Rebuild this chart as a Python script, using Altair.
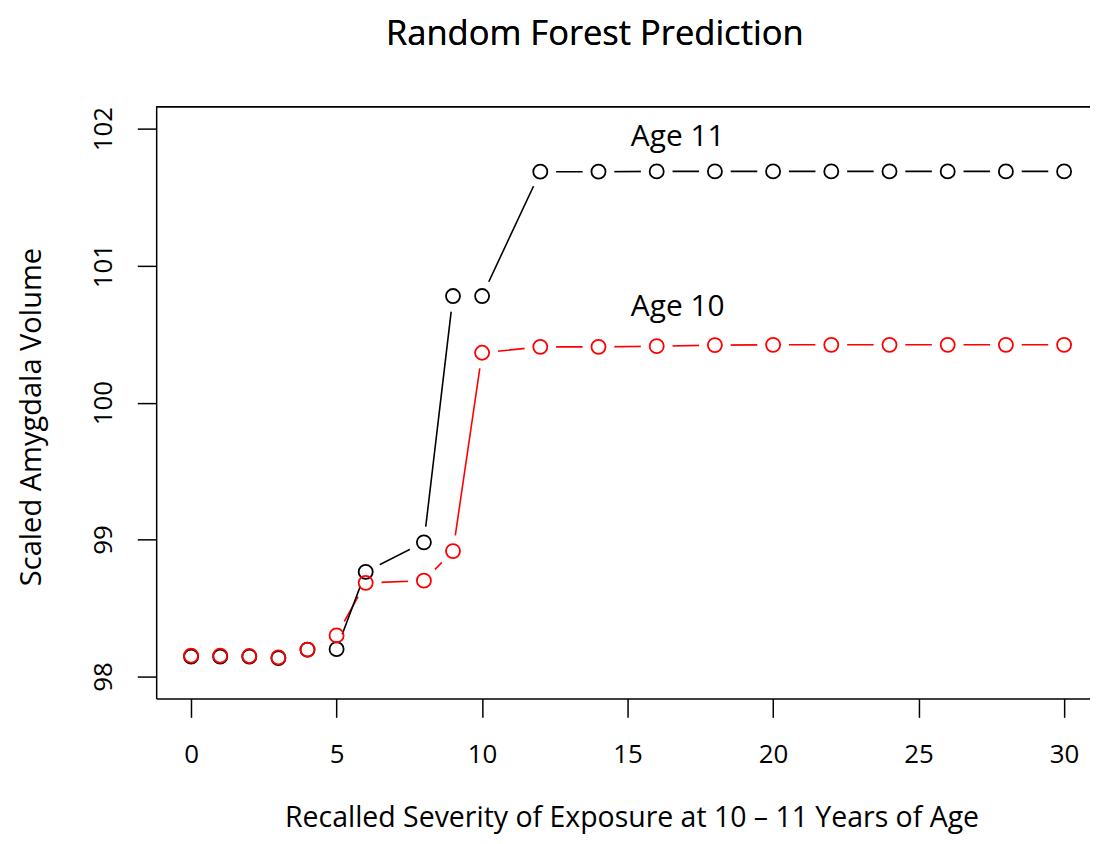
import altair as alt
import pandas as pd

# Data
severity = [0, 1, 2, 3, 4, 5, 6, 8, 9, 10, 12, 14, 16, 18, 20, 22, 24, 26, 28, 30]
age11 = [98.145, 98.145, 98.145, 98.135, 98.197, 98.20, 98.764, 98.98, 100.778, 100.778,
         101.686, 101.686, 101.688, 101.688, 101.688, 101.688, 101.688, 101.688, 101.688, 101.688]
age10 = [98.153, 98.153, 98.150, 98.140, 98.196, 98.30, 98.684, 98.70, 98.916, 100.364,
         100.407, 100.407, 100.412, 100.420, 100.422, 100.422, 100.422, 100.422, 100.422, 100.422]

label_text = ["Age 11", "Age 10"]
label_x = [16.72, 16.72]
label_y = [101.94, 100.70]

FONT = "Open Sans"

df11 = pd.DataFrame({"x": severity, "y": age11})
df10 = pd.DataFrame({"x": severity, "y": age10})
dflab = pd.DataFrame({"x": label_x, "y": label_y, "t": label_text})

xscale = alt.Scale(domain=[-1.2, 30.89], nice=False, zero=False)
yscale = alt.Scale(domain=[97.84, 102.16], nice=False, zero=False)

xaxis = alt.Axis(
    values=[0, 5, 10, 15, 20, 25, 30], grid=False, tickSize=19, tickWidth=1.5,
    tickColor="black", domainColor="black", domainWidth=1.5,
    labelFontSize=26, labelFont=FONT, labelColor="black", labelPadding=24,
    labelFontWeight="normal",
    title="Recalled Severity of Exposure at 10 \u2013 11 Years of Age",
    titleFont=FONT, titleFontSize=28.6, titleFontWeight="normal", titleColor="black",
    titleX=478, titleY=129, titleAlign="center", titleBaseline="alphabetic",
)
yaxis = alt.Axis(
    values=[98, 99, 100, 101, 102], grid=False, tickSize=19, tickWidth=1.5,
    tickColor="black", domainColor="black", domainWidth=1.5,
    labelFontSize=26, labelFont=FONT, labelColor="black", labelPadding=26,
    labelAngle=270, labelAlign="center", labelBaseline="alphabetic",
    title="Scaled Amygdala Volume",
    titleFont=FONT, titleFontSize=29.2, titleFontWeight="normal", titleColor="black",
    titleX=-116, titleY=311.5, titleAngle=270, titleAlign="center",
    titleBaseline="alphabetic",
)

X = alt.X("x:Q", scale=xscale, axis=xaxis)
Y = alt.Y("y:Q", scale=yscale, axis=yaxis)

HALO = 1018
PT = 200

red_line = alt.Chart(df10).mark_line(color="#ff0000", strokeWidth=1.6).encode(x=X, y=Y)
red_halo = alt.Chart(df10).mark_point(shape="circle", filled=True, color="white",
                                      opacity=1, size=HALO, strokeWidth=0).encode(x=X, y=Y)
blk_line = alt.Chart(df11).mark_line(color="black", strokeWidth=1.6).encode(x=X, y=Y)
blk_halo = alt.Chart(df11).mark_point(shape="circle", filled=True, color="white",
                                      opacity=1, size=HALO, strokeWidth=0).encode(x=X, y=Y)
blk_pts = alt.Chart(df11).mark_point(shape="circle", filled=False, color="black",
                                     opacity=1, size=PT, strokeWidth=1.8).encode(x=X, y=Y)
red_pts = alt.Chart(df10).mark_point(shape="circle", filled=False, color="#ff0000",
                                     opacity=1, size=PT, strokeWidth=1.8).encode(x=X, y=Y)

labels = alt.Chart(dflab).mark_text(font=FONT, fontSize=30, color="black",
                                    align="center", baseline="middle").encode(
    x=X, y=Y, text="t:N")

top_border = alt.Chart(dflab).mark_rule(color="black", strokeWidth=1.5).encode(
    x=alt.value(0), x2=alt.value(939), y=alt.value(0))

title = alt.Chart(dflab).mark_text(font=FONT, fontSize=34.7, color="black",
                                   align="center", baseline="alphabetic").encode(
    x=alt.value(441), y=alt.value(-62), text=alt.value("Random Forest Prediction"))

chart = alt.layer(
    red_line, red_halo, blk_line, blk_halo, blk_pts, red_pts, labels, top_border, title
).properties(
    width=939, height=595,
    autosize=alt.AutoSizeParams(type="none"),
    padding={"left": 149, "top": 97, "right": 0, "bottom": 136},
    background="white",
).configure_view(stroke=None)

chart.save("out.html", embed_options={"renderer": "svg", "actions": False})
